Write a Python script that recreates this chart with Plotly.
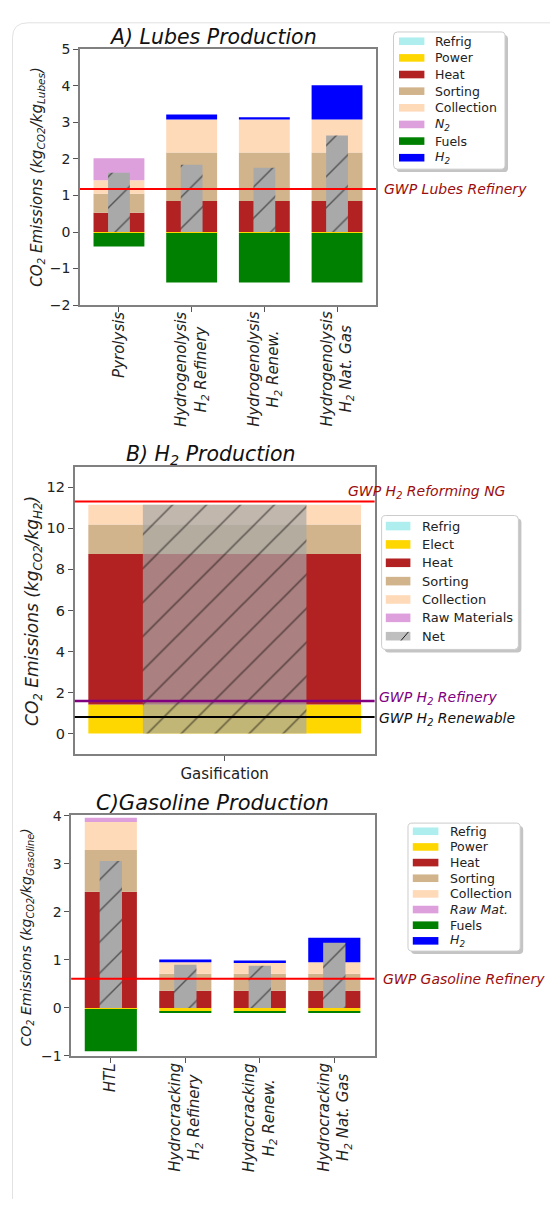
import numpy as np
import plotly.graph_objects as go

W, H = 550, 1212

# ---------------- data ----------------
comp_colors = {
    "Refrig": "#AFEEEE",
    "Power": "#FFD700",
    "Heat": "#B22222",
    "Sorting": "#D2B48C",
    "Collection": "#FFDAB9",
    "Raw": "#DDA0DD",
    "Fuels": "#008000",
    "H2": "#0000FF",
}
net_color = "#A9A9A9"

# A) Lubes production (kg CO2 / kg lubes)
lubes_cats = ["Pyrolysis",
              "Hydrogenolysis<br>H<sub>2</sub> Refinery",
              "Hydrogenolysis<br>H<sub>2</sub> Renew.",
              "Hydrogenolysis<br>H<sub>2</sub> Nat. Gas"]
lubes_refrig = [0.0, 0.0, 0.0, 0.0]
lubes_power = [-0.03, -0.03, -0.03, -0.03]
lubes_heat = [0.53, 0.85, 0.85, 0.85]
lubes_sorting = [0.52, 1.33, 1.33, 1.33]
lubes_collection = [0.37, 0.90, 0.90, 0.90]
lubes_n2 = [0.60, 0.0, 0.0, 0.0]
lubes_fuels = [-0.37, -1.35, -1.35, -1.35]
lubes_h2 = [0.0, 0.14, 0.06, 0.94]
lubes_net = [1.62, 1.84, 1.76, 2.64]
gwp_lubes_refinery = 1.18

# B) H2 production (kg CO2 / kg H2)
h2_cats = ["Gasification"]
h2_refrig = [0.0]
h2_elect = [1.41]
h2_heat = [7.34]
h2_sorting = [1.44]
h2_collection = [0.96]
h2_raw = [0.0]
h2_net = [11.15]
gwp_h2_reforming_ng = 11.31
gwp_h2_refinery = 1.59
gwp_h2_renewable = 0.80

# C) Gasoline production (kg CO2 / kg gasoline)
gas_cats = ["HTL",
            "Hydrocracking<br>H<sub>2</sub> Refinery",
            "Hydrocracking<br>H<sub>2</sub> Renew.",
            "Hydrocracking<br>H<sub>2</sub> Nat. Gas"]
gas_refrig = [0.0, 0.0, 0.0, 0.0]
gas_power = [-0.02, -0.07, -0.07, -0.07]
gas_heat = [2.42, 0.36, 0.36, 0.36]
gas_sorting = [0.87, 0.35, 0.35, 0.35]
gas_collection = [0.58, 0.24, 0.24, 0.24]
gas_raw = [0.09, 0.0, 0.0, 0.0]
gas_fuels = [-0.88, -0.02, -0.02, -0.02]
gas_h2 = [0.0, 0.06, 0.04, 0.51]
gas_net = [3.06, 0.90, 0.88, 1.36]
gwp_gasoline_refinery = 0.61

legend_a = ["Refrig", "Power", "Heat", "Sorting", "Collection",
            "<i>N<sub>2</sub></i>", "Fuels", "<i>H<sub>2</sub></i>"]
legend_b = ["Refrig", "Elect", "Heat", "Sorting", "Collection",
            "Raw Materials", "Net"]
legend_c = ["Refrig", "Power", "Heat", "Sorting", "Collection",
            "<i>Raw Mat.</i>", "Fuels", "<i>H<sub>2</sub></i>"]

FONT = "DejaVu Sans"


def px(x):
    return x / W


def py(y):
    return 1 - y / H


fig = go.Figure()


def add_stack(series, n, xa, ya, width):
    """Stacked bars: positives pile upward from 0, negatives downward."""
    xs = np.arange(n)
    pos = np.zeros(n)
    neg = np.zeros(n)
    for key, vals in series:
        v = np.asarray(vals, dtype=float)
        base = np.where(v >= 0, pos, neg)
        fig.add_trace(go.Bar(
            x=xs, y=v, base=base, width=width, name=key,
            marker=dict(color=comp_colors[key], line=dict(width=0)),
            xaxis=xa, yaxis=ya, showlegend=False, hoverinfo="skip"))
        pos = pos + np.where(v > 0, v, 0)
        neg = neg + np.where(v < 0, v, 0)


def add_net(vals, xa, ya, width, color, size):
    fig.add_trace(go.Bar(
        x=np.arange(len(vals)), y=vals, base=0, width=width, name="Net",
        marker=dict(color=color, line=dict(width=0),
                    pattern=dict(shape="/", fillmode="overlay", fgcolor="#000000",
                                 size=size, solidity=0.065)),
        xaxis=xa, yaxis=ya, showlegend=False, hoverinfo="skip"))


# A
add_stack([("Refrig", lubes_refrig), ("Power", lubes_power), ("Heat", lubes_heat),
           ("Sorting", lubes_sorting), ("Collection", lubes_collection),
           ("Raw", lubes_n2), ("Fuels", lubes_fuels), ("H2", lubes_h2)],
          len(lubes_cats), "x", "y", 0.7)
add_net(lubes_net, "x", "y", 0.3, net_color, 22)

# B
add_stack([("Refrig", h2_refrig), ("Power", h2_elect), ("Heat", h2_heat),
           ("Sorting", h2_sorting), ("Collection", h2_collection), ("Raw", h2_raw)],
          len(h2_cats), "x2", "y2", 1.0)
add_net(h2_net, "x2", "y2", 0.6, "rgba(169,169,169,0.7)", 24)

# C
add_stack([("Refrig", gas_refrig), ("Power", gas_power), ("Heat", gas_heat),
           ("Sorting", gas_sorting), ("Collection", gas_collection),
           ("Raw", gas_raw), ("Fuels", gas_fuels), ("H2", gas_h2)],
          len(gas_cats), "x3", "y3", 0.7)
add_net(gas_net, "x3", "y3", 0.3, net_color, 22)


def axis_common():
    return dict(showline=True, linecolor="#808080", linewidth=1.5, mirror=True,
                ticks="outside", ticklen=5, tickwidth=1.2, tickcolor="#555",
                showgrid=False, zeroline=False, fixedrange=True)


fig.update_layout(
    width=W, height=H, margin=dict(l=0, r=0, t=0, b=0),
    paper_bgcolor="white", plot_bgcolor="white",
    barmode="overlay", showlegend=False,
    font=dict(family=FONT, color="#222"),
    xaxis=dict(**axis_common(), domain=[px(80), px(376)], range=[-0.536, 3.536],
               anchor="y", tickmode="array", tickvals=list(range(len(lubes_cats))),
               showticklabels=False),
    yaxis=dict(**axis_common(), domain=[py(301), py(42)], range=[-2, 5], dtick=1,
               anchor="x", tickfont=dict(size=14, color="#222")),
    xaxis2=dict(**axis_common(), domain=[px(74.7), px(374.6)], range=[-0.55, 0.55],
                anchor="y2", tickmode="array", tickvals=[0], ticktext=h2_cats,
                tickfont=dict(size=15, color="#222")),
    yaxis2=dict(**axis_common(), domain=[py(756), py(465)], range=[-1, 13], dtick=2,
                anchor="x2", tickfont=dict(size=14.5, color="#222")),
    xaxis3=dict(**axis_common(), domain=[px(71.2), px(374.6)], range=[-0.532, 3.541],
                anchor="y3", tickmode="array", tickvals=list(range(len(gas_cats))),
                showticklabels=False),
    yaxis3=dict(**axis_common(), domain=[py(1062), py(817.7)], range=[-1, 4.02], dtick=1,
                anchor="x3", tickfont=dict(size=14, color="#222")),
)


def hline(xa, ya, val, color, width=2):
    fig.add_shape(type="line", xref="%s domain" % xa, yref=ya, x0=0, x1=1,
                  y0=val, y1=val, line=dict(color=color, width=width), layer="above")


hline("x", "y", gwp_lubes_refinery, "#FF0000")
hline("x2", "y2", gwp_h2_reforming_ng, "#FF0000")
hline("x2", "y2", gwp_h2_refinery, "#800080", 2.5)
hline("x2", "y2", gwp_h2_renewable, "#000000")
hline("x3", "y3", gwp_gasoline_refinery, "#FF0000")


def note(text, x, y, size, color="#222", xref="paper", yref="paper", xanchor="center",
         yanchor="middle", angle=0, yshift=0):
    fig.add_annotation(text=text, x=x, y=y, xref=xref, yref=yref,
                       xanchor=xanchor, yanchor=yanchor, showarrow=False,
                       textangle=angle, yshift=yshift, align="center",
                       font=dict(family=FONT, size=size, color=color))


# rotated category labels under panels A and C (lines centred on each other)
for i, cat in enumerate(lubes_cats):
    note("<i>%s</i>" % cat, i, py(306), 15, xref="x", yanchor="top", angle=-90)
for i, cat in enumerate(gas_cats):
    note("<i>%s</i>" % cat, i, py(1067), 15, xref="x3", yanchor="top", angle=-90)

# reference-line labels
note("<i>GWP Lubes Refinery</i>", px(381.5), gwp_lubes_refinery, 14, "#9b0d0d",
     yref="y", xanchor="left")
note("<i>GWP H<sub>2</sub> Reforming NG</i>", px(345.5), gwp_h2_reforming_ng, 14,
     "#9b0d0d", yref="y2", xanchor="left", yshift=10)
note("<i>GWP H<sub>2</sub> Refinery</i>", px(377), gwp_h2_refinery, 14, "#800080",
     yref="y2", xanchor="left", yshift=3)
note("<i>GWP H<sub>2</sub> Renewable</i>", px(377), gwp_h2_renewable, 14, "#111",
     yref="y2", xanchor="left", yshift=-2)
note("<i>GWP Gasoline Refinery</i>", px(380.6), gwp_gasoline_refinery, 14, "#9b0d0d",
     yref="y3", xanchor="left")

# panel titles
note("<i>A) Lubes Production</i>", px(213), py(29.5), 20.5, "#111")
note("<i>B) H<sub>2</sub> Production</i>", px(211), py(452.5), 20.5, "#111")
note("<i>C)Gasoline Production</i>", px(212), py(805.5), 21, "#111")

# y-axis titles
note("<i>CO<sub>2</sub> Emissions (kg<sub>CO2</sub>/kg<sub>Lubes</sub>)</i>",
     px(37.5), py(171.5), 15, angle=-90)
note("<i>CO<sub>2</sub> Emissions (kg<sub>CO2</sub>/kg<sub>H2</sub>)</i>",
     px(34), py(611), 17, angle=-90)
note("<i>CO<sub>2</sub> Emissions (kg<sub>CO2</sub>/kg<sub>Gasoline</sub>)</i>",
     px(27), py(942), 14, angle=-90)


def rect(x0, y0, x1, y1, fill, line_color=None, line_width=0):
    fig.add_shape(type="rect", xref="paper", yref="paper",
                  x0=px(x0), x1=px(x1), y0=py(y1), y1=py(y0),
                  fillcolor=fill, layer="above",
                  line=dict(color=line_color or fill, width=line_width))


def round_box(x0, y0, x1, y1, r, fill, line_color, line_width):
    pts = [(x0 + r, y0), (x1 - r, y0), (x1, y0), (x1, y0 + r), (x1, y1 - r), (x1, y1),
           (x1 - r, y1), (x0 + r, y1), (x0, y1), (x0, y1 - r), (x0, y0 + r), (x0, y0),
           (x0 + r, y0)]
    p = [(px(a), py(b)) for a, b in pts]
    path = ("M %f,%f L %f,%f Q %f,%f %f,%f L %f,%f Q %f,%f %f,%f "
            "L %f,%f Q %f,%f %f,%f L %f,%f Q %f,%f %f,%f Z") % tuple(
        c for xy in p for c in xy)
    fig.add_shape(type="path", xref="paper", yref="paper", path=path,
                  fillcolor=fill, layer="above",
                  line=dict(color=line_color, width=line_width))


def legend(box, sw_x, text_x, first_y, step, sw_h, labels, fills, size, hatch_last=False):
    x0, y0, x1, y1 = box
    round_box(x0 + 3, y0 + 3, x1 + 3, y1 + 3, 4, "#c4c4c4", "#c4c4c4", 0)
    round_box(x0, y0, x1, y1, 4, "white", "#cccccc", 1)
    for i, (lab, fill) in enumerate(zip(labels, fills)):
        yc = first_y + i * step
        rect(sw_x[0], yc - sw_h / 2, sw_x[1], yc + sw_h / 2, fill)
        if hatch_last and i == len(labels) - 1:
            w = sw_x[1] - sw_x[0]
            fig.add_shape(type="line", xref="paper", yref="paper", layer="above",
                          x0=px(sw_x[0] + 0.62 * w), y0=py(yc + sw_h / 2),
                          x1=px(sw_x[0] + 0.92 * w), y1=py(yc - sw_h / 2),
                          line=dict(color="#1a1a1a", width=1))
        note(lab, px(text_x), py(yc), size, "#222", xanchor="left")


fills_ac = [comp_colors[k] for k in
            ["Refrig", "Power", "Heat", "Sorting", "Collection", "Raw", "Fuels", "H2"]]
fills_b = [comp_colors[k] for k in
           ["Refrig", "Power", "Heat", "Sorting", "Collection", "Raw"]] + ["#bfbfbf"]

legend((393.5, 24.3, 505, 163.3), (399, 424.4), 433, 33.7, 16.86, 7.7,
       legend_a, fills_ac, 12.5)
legend((381.6, 514.3, 518.4, 650), (385.8, 410.4), 420, 525, 18.6, 8.7,
       legend_b, fills_b, 13, hatch_last=True)
legend((408, 826, 520.2, 955.7), (412.8, 438.4), 448, 834.3, 15.86, 7.7,
       legend_c, fills_ac, 12.5)

# outer frame of the figure canvas
frame = "M %f,%f L %f,%f Q %f,%f %f,%f L %f,%f" % (
    px(12.5), py(1207), px(12.5), py(30), px(12.5), py(15), px(28), py(15), px(550), py(15))
fig.add_shape(type="path", xref="paper", yref="paper", path=frame,
              line=dict(color="#e2e2e2", width=1), layer="below")

fig.write_html("out.html")
